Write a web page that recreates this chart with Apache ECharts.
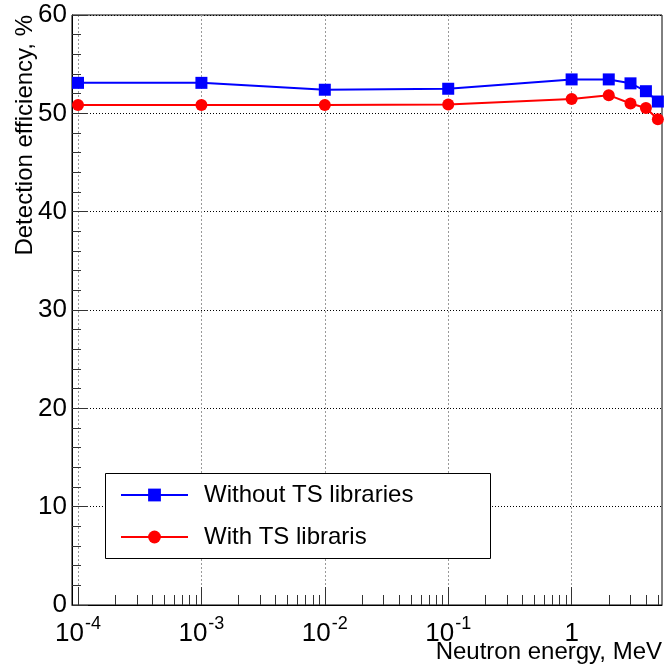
<!DOCTYPE html>
<html>
<head>
<meta charset="utf-8">
<script src="https://cdn.jsdelivr.net/npm/echarts@6/dist/echarts.min.js"></script>
<style>
  html, body { margin: 0; padding: 0; background: #fff; }
  #chart { width: 664px; height: 666px; }
</style>
</head>
<body>
<div id="chart"></div>
<script>
// Neutron energies (MeV) at which the efficiency was simulated
const energyMeV = [1e-4, 1e-3, 1e-2, 1e-1, 1, 2, 3, 4, 5];
// Detection efficiency, %
const effWithoutTS = [53.1, 53.1, 52.4, 52.5, 53.45, 53.45, 53.05, 52.25, 51.2];
const effWithTS = [50.85, 50.85, 50.85, 50.9, 51.45, 51.85, 51.0, 50.55, 49.4];
const seriesNames = ['Without TS libraries', 'With TS libraris'];

// Axis definitions
const energyRange = [8.94e-5, 5.4];
const decadeTicks = [1e-4, 1e-3, 1e-2, 1e-1, 1];
const yRange = [0, 60];
const yStep = 10;

const FONT = 'Liberation Sans, Arial, Helvetica, sans-serif';
const lg = Math.log10;

// minor ticks at 2..9 x 10^n inside the axis range
const minorTicks = [];
decadeTicks.forEach(d => {
  for (let k = 2; k <= 9; k++) {
    const v = k * d;
    if (v <= energyRange[1]) minorTicks.push(lg(v));
  }
});

const toPoints = vals => energyMeV.map((e, i) => [lg(e), vals[i]]);

const chart = echarts.init(document.getElementById('chart'), null, { renderer: 'canvas' });

const legendCommon = {
  left: 120,
  itemWidth: 67,
  itemHeight: 16,
  padding: 0,
  selectedMode: false,
  z: 6,
  textStyle: { fontSize: 24, color: '#000', fontFamily: FONT, padding: [0, 0, 0, 11] }
};

chart.setOption({
  animation: false,
  backgroundColor: '#fff',
  grid: {
    left: 72, right: 2, top: 15, bottom: 61,
    show: true, borderColor: '#000', borderWidth: 1, backgroundColor: 'transparent'
  },
  xAxis: [
    {
      type: 'value',
      min: lg(energyRange[0]),
      max: lg(energyRange[1]),
      axisLine: { show: true, onZero: false, lineStyle: { color: '#000', width: 1 } },
      axisTick: {
        show: true, inside: true, length: 18,
        customValues: decadeTicks.map(lg),
        lineStyle: { color: '#333', width: 1 }
      },
      axisLabel: {
        show: true,
        customValues: decadeTicks.map(lg),
        margin: 10,
        color: '#000',
        fontFamily: FONT,
        formatter: v => {
          const n = Math.round(v);
          return n === 0 ? '{b|1}' : '{b|10}{s|' + n + '}';
        },
        rich: {
          b: { fontSize: 26, fontFamily: FONT, color: '#000', lineHeight: 32, verticalAlign: 'bottom' },
          s: { fontSize: 18, fontFamily: FONT, color: '#000', lineHeight: 32, verticalAlign: 'top', padding: [0, 0, 0, 1] }
        }
      },
      splitLine: { show: true, lineStyle: { color: '#999', type: [2, 2], width: 1 } }
    },
    {
      type: 'value',
      position: 'bottom',
      min: lg(energyRange[0]),
      max: lg(energyRange[1]),
      axisLine: { show: false, onZero: false },
      axisLabel: { show: false },
      splitLine: { show: false },
      axisTick: {
        show: true, inside: true, length: 10,
        customValues: minorTicks,
        lineStyle: { color: '#333', width: 1 }
      }
    }
  ],
  yAxis: {
    type: 'value',
    min: yRange[0],
    max: yRange[1],
    interval: yStep,
    axisLine: { show: true, onZero: false, lineStyle: { color: '#000', width: 1 } },
    axisTick: { show: true, inside: true, length: 16, lineStyle: { color: '#333', width: 1 } },
    minorTick: { show: true, splitNumber: 5, length: 9, lineStyle: { color: '#333', width: 1 } },
    axisLabel: { fontSize: 26, color: '#000', fontFamily: FONT, margin: 5 },
    splitLine: { show: true, lineStyle: { color: '#000', type: [1, 2], width: 1 } }
  },
  legend: [
    Object.assign({ data: [seriesNames[0]], top: 483 }, legendCommon),
    Object.assign({ data: [seriesNames[1]], top: 525 }, legendCommon)
  ],
  graphic: [
    {
      type: 'rect', z: 3,
      shape: { x: 105.5, y: 473.5, width: 385, height: 85 },
      style: { fill: '#fff', stroke: '#000', lineWidth: 1 }
    },
    {
      type: 'text', z: 10,
      x: 25, y: 15, rotation: Math.PI / 2,
      style: {
        text: 'Detection efficiency, %', fontSize: 24, fontFamily: FONT, fill: '#000',
        textAlign: 'right', textVerticalAlign: 'middle'
      }
    },
    {
      type: 'text', z: 10,
      x: 662, y: 652,
      style: {
        text: 'Neutron energy, MeV', fontSize: 24, fontFamily: FONT, fill: '#000',
        textAlign: 'right', textVerticalAlign: 'middle'
      }
    }
  ],
  series: [
    {
      name: seriesNames[0],
      type: 'line',
      xAxisIndex: 0,
      data: toPoints(effWithoutTS),
      symbol: 'rect',
      symbolSize: 12,
      showAllSymbol: true,
      clip: false,
      lineStyle: { color: '#0000ff', width: 2 },
      itemStyle: { color: '#0000ff' }
    },
    {
      name: seriesNames[1],
      type: 'line',
      xAxisIndex: 0,
      data: toPoints(effWithTS),
      symbol: 'circle',
      symbolSize: 12,
      showAllSymbol: true,
      clip: false,
      lineStyle: { color: '#ff0000', width: 2 },
      itemStyle: { color: '#ff0000' }
    }
  ]
});
</script>
</body>
</html>
